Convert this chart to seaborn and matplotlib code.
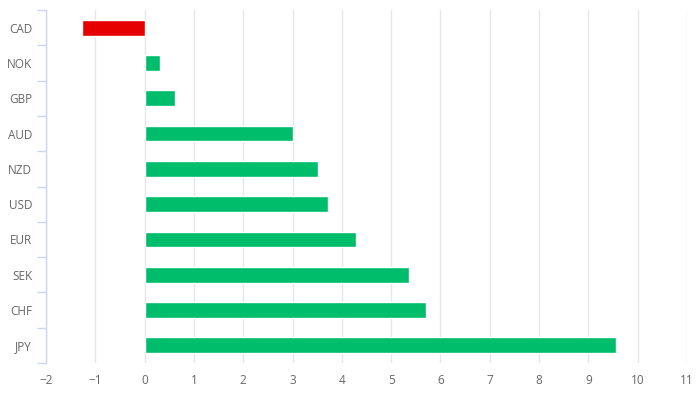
import matplotlib
matplotlib.use("Agg")
import matplotlib.pyplot as plt
import seaborn as sns
import pandas as pd
import numpy as np

# === Data ===
currencies = ["CAD", "NOK", "GBP", "AUD", "NZD", "USD", "EUR", "SEK", "CHF", "JPY"]
changes = [-1.28, 0.32, 0.61, 3.0, 3.51, 3.71, 4.28, 5.36, 5.71, 9.55]

df = pd.DataFrame({"currency": currencies, "change": changes})
df["sign"] = np.where(df["change"] < 0, "neg", "pos")

sns.set_style("white")
plt.rcParams["font.family"] = ["Open Sans", "DejaVu Sans"]

fig = plt.figure(figsize=(6.99, 3.97), dpi=100)
ax = fig.add_axes([46 / 699, 34 / 397, 641 / 699, 353 / 397])

sns.barplot(data=df, x="change", y="currency", hue="sign", orient="h",
            palette={"neg": "#e60000", "pos": "#00bd6c"}, width=0.45,
            legend=False, ax=ax, dodge=False, saturation=1)

ax.set_xlim(-2, 11)
ax.set_ylim(len(currencies) - 0.5, -0.5)
ax.set_xticks(range(-2, 12))
ax.set_xticklabels([str(t).replace("-", "\u2212") for t in range(-2, 12)])
ax.grid(axis="x", color="#e6e6e6", linewidth=1)
ax.set_axisbelow(True)

for s in ["top", "right", "bottom"]:
    ax.spines[s].set_visible(False)
ax.spines["left"].set_color("#ccd6eb")
ax.spines["left"].set_linewidth(1)

# category ticks sit between the bars
ax.set_yticks(np.arange(-0.5, len(currencies)), minor=True)
ax.tick_params(axis="y", which="minor", left=True, length=6.5, color="#ccd6eb", width=1)
ax.tick_params(axis="y", which="major", left=False, length=0, pad=10, labelsize=8.5, labelcolor="#666666")
ax.tick_params(axis="x", length=0, pad=8, labelsize=8.5, labelcolor="#666666")

ax.set_xlabel("")
ax.set_ylabel("")

fig.savefig("out.png", dpi=100)
